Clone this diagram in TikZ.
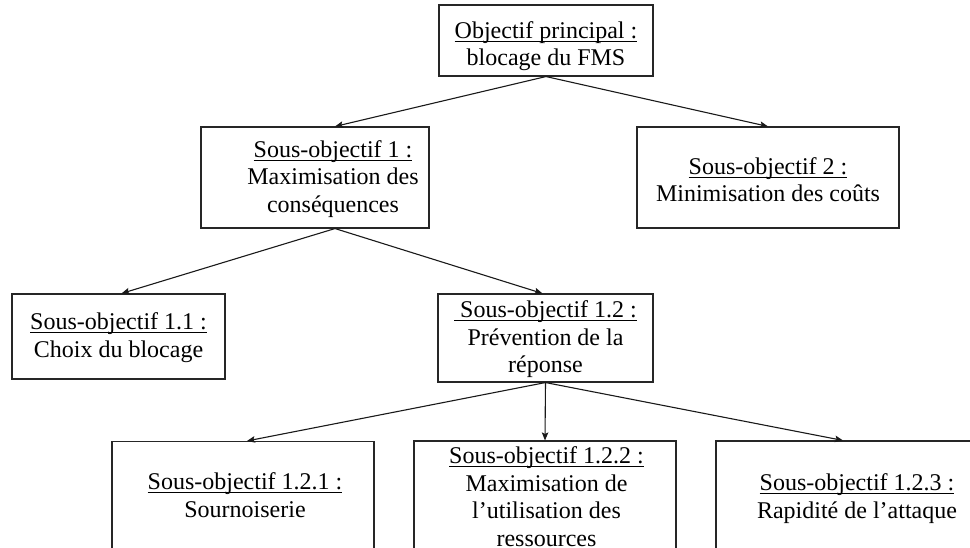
\documentclass[tikz,border=0pt]{standalone}
\usepackage{fontspec}
\setmainfont{Liberation Serif}
\usetikzlibrary{arrows.meta}

% underline set at a fixed distance below the baseline
\newsavebox{\ulinebox}
\newcommand{\uline}[1]{\sbox{\ulinebox}{#1}%
  \rlap{\rule[-3.6pt]{\wd\ulinebox}{1.1pt}}\usebox{\ulinebox}}

\begin{document}
\begin{tikzpicture}[x=1pt,y=-1pt,
  box/.style={draw=black!85, line width=1.1pt, rectangle, inner sep=0pt},
  label/.style={inner sep=0pt, align=center,
    font=\fontsize{24}{27.6}\selectfont},
  link/.style={line width=1.1pt, black!90,
    -{Stealth[length=8pt,width=6.5pt,inset=1.5pt]}}]

\useasboundingbox (0,0) rectangle (970,548);
\clip (0,0) rectangle (970,548);

% boxes
\node[box, minimum width=214pt, minimum height=71pt]  (top)  at (546,40.5) {};
\node[box, minimum width=228pt, minimum height=101pt] (s1)   at (315,177.5) {};
\node[box, minimum width=262pt, minimum height=101pt] (s2)   at (768,177.5) {};
\node[box, minimum width=213pt, minimum height=85pt]  (s11)  at (118.5,336.5) {};
\node[box, minimum width=215pt, minimum height=88pt]  (s12)  at (545.5,338) {};
\node[box, minimum width=262pt, minimum height=140pt] (s121) at (243,511.5) {};
\node[box, minimum width=262pt, minimum height=140pt] (s122) at (545,511) {};
\node[box, minimum width=284pt, minimum height=140pt] (s123) at (858,511) {};

% texts
\node[label] (ttop)  at (546,46.2)  {\uline{Objectif principal :}\\blocage du FMS};
\node[label] (ts1)   at (333,179)   {\uline{Sous-objectif 1 :}\\Maximisation des\\conséquences};
\node[label] (ts2)   at (768,179.5) {\uline{Sous-objectif 2 :}\\Minimisation des coûts};
\node[label] (ts11)  at (118.5,337.5) {\uline{Sous-objectif 1.1 :}\\Choix du blocage};
\node[label] (ts12)  at (545.5,339.5) {\uline{\ Sous-objectif 1.2 :}\\Prévention de la\\réponse};
\node[label] (ts121) at (245,495)   {\uline{Sous-objectif 1.2.1 :}\\Sournoiserie};
\node[label] (ts122) at (546.5,496.5) {\uline{Sous-objectif 1.2.2 :}\\Maximisation de\\l’utilisation des\\ressources};
\node[label] (ts123) at (857,498.5) {\uline{Sous-objectif 1.2.3 :}\\Rapidité de l’attaque};

% connectors
\draw[link] (top.south) -- ([xshift=20pt]s1.north);
\draw[link] (top.south) -- (s2.north);
\draw[link] ([xshift=20pt]s1.south) -- ([xshift=3pt]s11.north);
\draw[link] ([xshift=20pt]s1.south) -- ([xshift=-3pt]s12.north);
\draw[link] (s12.south) -- ([xshift=4pt]s121.north);
\draw[link] (s12.south) -- (s122.north);
\draw[link] (s12.south) -- ([xshift=-15pt]s123.north);
\end{tikzpicture}
\end{document}
